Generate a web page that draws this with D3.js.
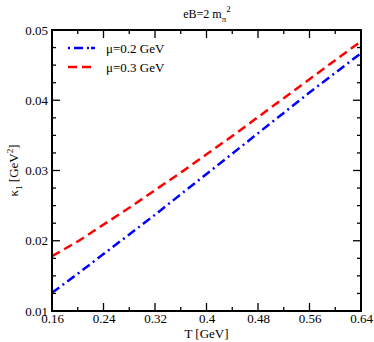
<!doctype html>
<html>
<head>
<meta charset="utf-8">
<script src="https://d3js.org/d3.v7.min.js"></script>
<style>
  body { margin: 0; background: white; }
</style>
</head>
<body>
<script>
    const temps = [0.16, 0.20, 0.24, 0.28, 0.32, 0.36, 0.40, 0.44, 0.48, 0.52, 0.56, 0.60, 0.64];
    const kappaMu02 = [0.0126, 0.0153, 0.0181, 0.0209, 0.0237, 0.0266, 0.0295, 0.0324, 0.0353, 0.0382, 0.0411, 0.0439, 0.0467];
    const kappaMu03 = [0.0178, 0.0199, 0.0223, 0.0247, 0.0272, 0.0297, 0.0323, 0.0349, 0.0376, 0.0403, 0.0430, 0.0457, 0.0484];
    const xTicks = [0.16, 0.24, 0.32, 0.4, 0.48, 0.56, 0.64];
    const yTicks = [0.01, 0.02, 0.03, 0.04, 0.05];
    const seriesNames = ["μ=0.2 GeV", "μ=0.3 GeV"];

    const serif = "'Liberation Serif', 'Times New Roman', serif";
    const width = 374, height = 342;
    const plotLeft = 52, plotRight = 361, plotTop = 30, plotBottom = 311;

    const svg = d3.select("body").append("svg")
        .attr("width", width)
        .attr("height", height)
        .attr("font-family", serif);

    const x = d3.scaleLinear().domain([0.16, 0.64]).range([plotLeft, plotRight]);
    const y = d3.scaleLinear().domain([0.01, 0.05]).range([plotBottom, plotTop]);

    // minor/major ticks, inward on all four sides
    const xMinor = d3.range(0.16, 0.6401, 0.04);
    const yMinor = d3.range(0.01, 0.05001, 0.0025);
    const ticks = svg.append("g").attr("stroke", "black").attr("stroke-width", 1.3);
    xMinor.forEach((v, i) => {
        const len = i % 2 === 0 ? 8 : 4;
        ticks.append("line").attr("x1", x(v)).attr("x2", x(v)).attr("y1", plotBottom).attr("y2", plotBottom - len);
        ticks.append("line").attr("x1", x(v)).attr("x2", x(v)).attr("y1", plotTop).attr("y2", plotTop + len);
    });
    yMinor.forEach((v, i) => {
        const len = i % 4 === 0 ? 8 : 4;
        ticks.append("line").attr("x1", plotLeft).attr("x2", plotLeft + len).attr("y1", y(v)).attr("y2", y(v));
        ticks.append("line").attr("x1", plotRight).attr("x2", plotRight - len).attr("y1", y(v)).attr("y2", y(v));
    });

    // tick labels via axes
    const xAxis = svg.append("g")
        .attr("transform", `translate(0,${plotBottom})`)
        .call(d3.axisBottom(x).tickValues(xTicks).tickSize(0).tickPadding(3)
            .tickFormat(d => String(+d.toFixed(2))));
    xAxis.select(".domain").remove();

    const yAxis = svg.append("g")
        .attr("transform", `translate(${plotLeft - 1},0)`)
        .call(d3.axisLeft(y).tickValues(yTicks).tickSize(0).tickPadding(3)
            .tickFormat(d => d.toFixed(2)));
    yAxis.select(".domain").remove();
    svg.selectAll("g.tick text")
        .attr("fill", "black");
    xAxis.attr("font-family", serif).attr("font-size", 13);
    yAxis.attr("font-family", serif).attr("font-size", 13);

    const line = d3.line().x((d, i) => x(temps[i])).y(d => y(d));

    svg.append("path")
        .datum(kappaMu02)
        .attr("d", line)
        .attr("fill", "none")
        .attr("stroke", "#0000ff")
        .attr("stroke-width", 2.5)
        .attr("stroke-dasharray", "9,4,2,4");

    svg.append("path")
        .datum(kappaMu03)
        .attr("d", line)
        .attr("fill", "none")
        .attr("stroke", "#ff0000")
        .attr("stroke-width", 2.5)
        .attr("stroke-dasharray", "9,5");

    // frame
    svg.append("rect")
        .attr("x", plotLeft).attr("y", plotTop)
        .attr("width", plotRight - plotLeft).attr("height", plotBottom - plotTop)
        .attr("fill", "none").attr("stroke", "black").attr("stroke-width", 2);

    // legend
    const legend = svg.append("g");
    const legendStyles = [
        { color: "#0000ff", dash: "2,4,9,4,2", y: 48 },
        { color: "#ff0000", dash: "9,5", y: 67 }
    ];
    legendStyles.forEach((s, i) => {
        legend.append("line")
            .attr("x1", 68).attr("x2", 96)
            .attr("y1", s.y).attr("y2", s.y)
            .attr("stroke", s.color).attr("stroke-width", 2.5)
            .attr("stroke-dasharray", s.dash);
        legend.append("text")
            .attr("x", 106).attr("y", s.y).attr("dy", "0.35em")
            .attr("font-size", 13)
            .text(seriesNames[i]);
    });

    // title
    const title = svg.append("text")
        .attr("x", 207).attr("y", 18)
        .attr("text-anchor", "middle")
        .attr("font-size", 12);
    title.append("tspan").text("eB=2 m");
    title.append("tspan").attr("font-size", 9).attr("dy", 4).text("π");
    title.append("tspan").attr("font-size", 9).attr("dy", -10).text("2");

    // x label
    svg.append("text")
        .attr("x", (plotLeft + plotRight) / 2).attr("y", 338)
        .attr("text-anchor", "middle")
        .attr("font-size", 13)
        .text("T [GeV]");

    // y label
    const yl = svg.append("text")
        .attr("transform", `translate(18,${(plotTop + plotBottom) / 2}) rotate(-90)`)
        .attr("text-anchor", "middle")
        .attr("font-size", 13);
    yl.append("tspan").text("κ");
    yl.append("tspan").attr("font-size", 9).attr("dy", 4).text("1");
    yl.append("tspan").attr("dy", -4).text(" [GeV");
    yl.append("tspan").attr("font-size", 9).attr("dy", -5).text("2");
    yl.append("tspan").attr("dy", 5).text("]");
</script>
</body>
</html>
